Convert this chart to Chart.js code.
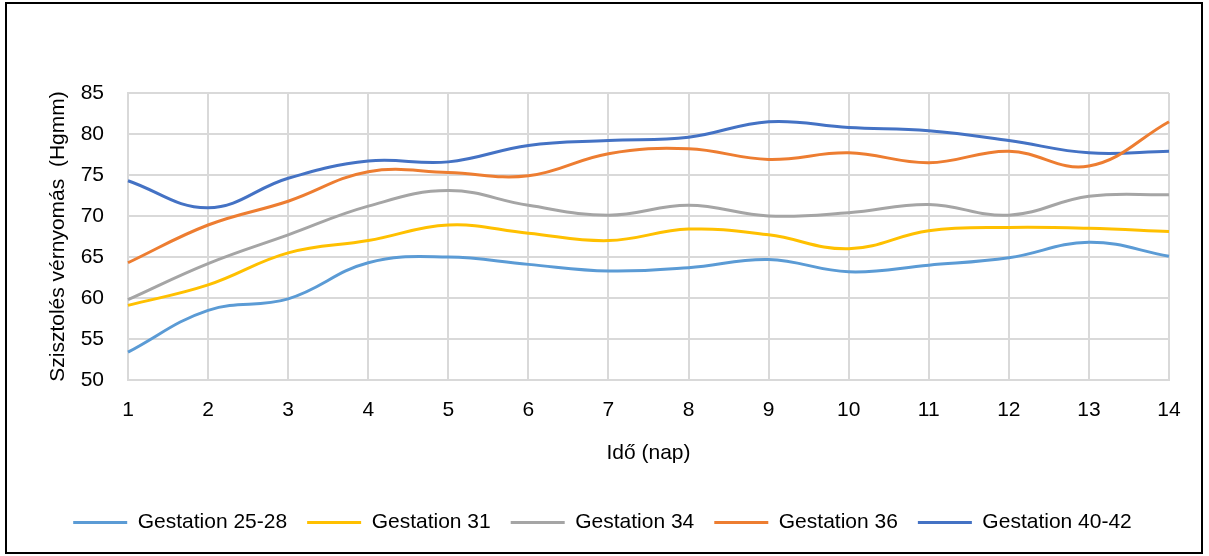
<!DOCTYPE html>
<html>
<head>
<meta charset="utf-8">
<script src="https://cdn.jsdelivr.net/npm/chart.js@4/dist/chart.umd.min.js"></script>
<style>
  html, body { margin: 0; padding: 0; background: #fff; }
  #wrap { width: 1209px; height: 556px; }
</style>
</head>
<body>
<div id="wrap"><canvas id="chart" width="1209" height="556"></canvas></div>
<script>
// days on the x axis
const days = ["1", "2", "3", "4", "5", "6", "7", "8", "9", "10", "11", "12", "13", "14"];

// systolic pressure per group
const gest2528 = [53.4, 58.5, 59.9, 64.3, 65.0, 64.1, 63.3, 63.7, 64.7, 63.2, 64.0, 64.9, 66.8, 65.1];
const gest31 = [59.1, 61.6, 65.5, 67.0, 68.9, 67.9, 67.0, 68.4, 67.7, 66.0, 68.2, 68.6, 68.5, 68.1];
const gest34 = [59.8, 64.2, 67.7, 71.2, 73.1, 71.3, 70.1, 71.3, 70.0, 70.4, 71.4, 70.1, 72.4, 72.6];
const gest36 = [64.3, 68.9, 71.8, 75.4, 75.3, 74.9, 77.6, 78.2, 76.9, 77.7, 76.5, 77.9, 76.1, 81.5];
const gest4042 = [74.3, 71.0, 74.6, 76.7, 76.6, 78.6, 79.2, 79.6, 81.5, 80.8, 80.4, 79.2, 77.7, 77.9];

const seriesNames = ["Gestation 25-28", "Gestation 31", "Gestation 34", "Gestation 36", "Gestation 40-42"];
const seriesColors = ["#5B9BD5", "#FFC000", "#A5A5A5", "#ED7D31", "#4472C4"];
const seriesData = [gest2528, gest31, gest34, gest36, gest4042];

const fontFamily = "'Liberation Sans', Arial, sans-serif";

// black frame around the whole chart
const framePlugin = {
    id: "frame",
    afterDraw(chart) {
        const ctx = chart.ctx;
        ctx.save();
        ctx.strokeStyle = "#000";
        ctx.lineWidth = 2;
        ctx.strokeRect(6, 3, 1196, 550);
        ctx.restore();
    }
};

const datasets = seriesNames.map((name, i) => ({
    label: name,
    data: seriesData[i],
    borderColor: seriesColors[i],
    backgroundColor: seriesColors[i],
    borderWidth: 3,
    pointRadius: 0,
    tension: 0.4,
    fill: false
}));

new Chart(document.getElementById("chart"), {
    type: "line",
    data: { labels: days, datasets: datasets },
    plugins: [framePlugin],
    options: {
        responsive: false,
        animation: false,
        layout: { padding: { left: 36, right: 40, top: 93, bottom: 13 } },
        plugins: {
            tooltip: { enabled: false },
            legend: {
                position: "bottom",
                labels: {
                    font: { family: fontFamily, size: 21 },
                    color: "#000",
                    boxWidth: 54,
                    boxHeight: 3,
                    padding: 20,
                    generateLabels(chart) {
                        return chart.data.datasets.map((ds, i) => ({
                            text: ds.label,
                            fillStyle: ds.borderColor,
                            strokeStyle: ds.borderColor,
                            lineWidth: 0,
                            fontColor: "#000",
                            datasetIndex: i
                        }));
                    }
                }
            }
        },
        scales: {
            x: {
                offset: false,
                grid: { color: "#d9d9d9", lineWidth: 2, drawTicks: false },
                border: { color: "#d9d9d9", width: 2 },
                ticks: { font: { family: fontFamily, size: 21 }, color: "#000", padding: 18, maxRotation: 0 },
                title: {
                    display: true,
                    text: "Idő (nap)",
                    font: { family: fontFamily, size: 21 },
                    color: "#000",
                    padding: { top: 8, bottom: 26 }
                },
                afterFit(scale) { scale.height = 112; }
            },
            y: {
                min: 50,
                max: 85,
                grid: { color: "#d9d9d9", lineWidth: 2, drawTicks: false },
                border: { color: "#d9d9d9", width: 2 },
                ticks: { stepSize: 5, font: { family: fontFamily, size: 21 }, color: "#000", padding: 24 },
                title: {
                    display: true,
                    text: "Szisztolés vérnyomás  (Hgmm)",
                    font: { family: fontFamily, size: 21 },
                    color: "#000",
                    padding: { top: 10, bottom: 0 }
                },
                afterFit(scale) { scale.width = 92; }
            }
        }
    }
});
</script>
</body>
</html>
